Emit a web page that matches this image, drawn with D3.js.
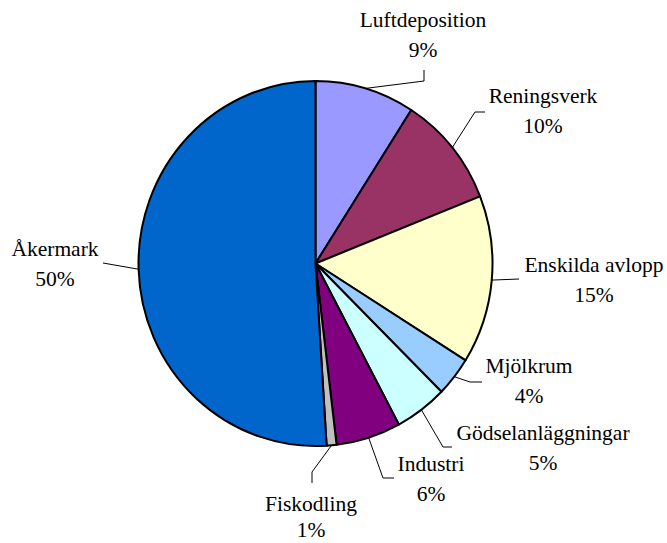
<!DOCTYPE html>
<meta charset="utf-8">
<head>
    <title>Pie Chart</title>
    <script src="https://d3js.org/d3.v7.min.js"></script>
    <style>
    body { margin: 0; background: #fff; }
    svg text { font-family: 'Liberation Serif', 'Times New Roman', Times, serif; font-size: 21.5px; fill: #000; }
    </style>
</head>
<body>
<svg id="pie"></svg>
<script>
    // data (share of total, %)
    var categories = ["Luftdeposition", "Reningsverk", "Enskilda avlopp", "Mjölkrum",
                      "Gödselanläggningar", "Industri", "Fiskodling", "Åkermark"];
    var values = [9.1, 9.9, 14.9, 3.5, 4.8, 5.9, 0.9, 51.0];
    var pctLabels = ["9%", "10%", "15%", "4%", "5%", "6%", "1%", "50%"];

    var colors = ["#9999FF", "#993366", "#FFFFCC", "#99CCFF", "#CCFFFF", "#800080", "#C0C0C0", "#0066CC"];

    // label layout: text centre x, first baseline y, line gap, leader points after the pie edge
    var labelLayout = [
        {x: 423, y: 27,  gap: 30, pts: [[424, 81], [424, 70]]},
        {x: 543, y: 103, gap: 30, pts: [[475, 112], [485, 112]]},
        {x: 594, y: 272, gap: 30, pts: [[519, 279]]},
        {x: 529, y: 373, gap: 30, pts: [[470, 382], [482, 382]]},
        {x: 543, y: 440, gap: 30, pts: [[443, 447], [452, 447]]},
        {x: 431, y: 471, gap: 30, pts: [[383, 478], [394, 478]]},
        {x: 311, y: 511, gap: 26, pts: [[312, 472], [312, 483]]},
        {x: 55,  y: 256, gap: 30, pts: [[103, 263]]}
    ];

    var width = 667, height = 543;
    var cx = 315.5, cy = 263.5, r = 177, sy = 182.5 / 177;

    var svg = d3.select("#pie").attr("width", width).attr("height", height);

    var pie = d3.pie().sort(null).value(function(d){ return d; });
    var arcs = pie(values);
    var arc = d3.arc().innerRadius(0).outerRadius(r);
    var edge = d3.arc().innerRadius(r).outerRadius(r);

    var g = svg.append("g").attr("transform", "translate(" + cx + "," + cy + ") scale(1," + sy + ")");

    g.selectAll("path").data(arcs).enter().append("path")
        .attr("d", arc)
        .attr("fill", function(d, i){ return colors[i]; })
        .attr("stroke", "#000")
        .attr("stroke-width", 2)
        .attr("stroke-linejoin", "round")
        .attr("vector-effect", "non-scaling-stroke");

    // leader lines
    svg.append("g").selectAll("polyline").data(arcs).enter().append("polyline")
        .attr("points", function(d, i){
            var c = edge.centroid(d);
            var p = [[cx + c[0], cy + c[1] * sy]].concat(labelLayout[i].pts);
            return p.map(function(q){ return q.join(","); }).join(" ");
        })
        .attr("fill", "none")
        .attr("stroke", "#000")
        .attr("stroke-width", 1);

    var labels = svg.append("g").selectAll("text").data(categories).enter().append("text")
        .attr("text-anchor", "middle")
        .attr("x", function(d, i){ return labelLayout[i].x; })
        .attr("y", function(d, i){ return labelLayout[i].y; });
    labels.append("tspan").text(function(d){ return d; });
    labels.append("tspan")
        .attr("x", function(d, i){ return labelLayout[i].x; })
        .attr("dy", function(d, i){ return labelLayout[i].gap; })
        .text(function(d, i){ return pctLabels[i]; });
</script>
</body>
</html>
